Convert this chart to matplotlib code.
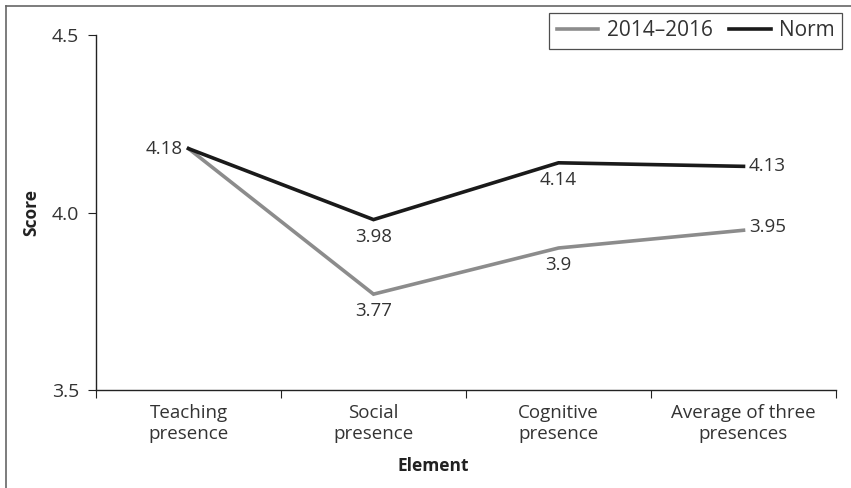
import matplotlib
matplotlib.use("Agg")
import matplotlib.pyplot as plt
from matplotlib.lines import Line2D

categories = ["Teaching\npresence", "Social\npresence", "Cognitive\npresence", "Average of three\npresences"]
series_2014 = [4.18, 3.77, 3.90, 3.95]
series_norm = [4.18, 3.98, 4.14, 4.13]
labels_2014 = ["4.18", "3.77", "3.9", "3.95"]
labels_norm = ["4.18", "3.98", "4.14", "4.13"]
yticks = [3.5, 4.0, 4.5]
ytick_labels = ["3.5", "4.0", "4.5"]

plt.rcParams['font.family'] = ['Open Sans', 'DejaVu Sans']
txt = '#333333'

fig = plt.figure(figsize=(8.51, 4.88), dpi=100)
ax = fig.add_axes([96/851, 1-390/488, (836-96)/851, (390-35)/488])

x = list(range(len(categories)))
ax.plot(x, series_2014, color='#8c8c8c', lw=2.6, label='2014–2016', solid_joinstyle='miter')
ax.plot(x, series_norm, color='#1a1a1a', lw=2.6, label='Norm', solid_joinstyle='miter')

ax.set_xlim(-0.5, len(categories) - 0.5)
ax.set_ylim(3.5, 4.5)
ax.set_yticks(yticks)
ax.set_yticklabels(ytick_labels, fontsize=14, color=txt)

bounds = [i - 0.5 for i in range(len(categories) + 1)]
ax.set_xticks(bounds)
ax.set_xticklabels([''] * len(bounds))
ax.set_xticks(x, minor=True)
ax.set_xticklabels(categories, minor=True, fontsize=13.5, color=txt, linespacing=1.2)
ax.tick_params(axis='x', which='minor', length=0, pad=10)
ax.tick_params(axis='x', which='major', length=6, direction='out', color='#222222')
ax.tick_params(axis='y', length=6, direction='out', color='#222222', pad=6)

for s in ['top', 'right']:
    ax.spines[s].set_visible(False)
for s in ['left', 'bottom']:
    ax.spines[s].set_color('#222222')
    ax.spines[s].set_linewidth(1.0)

ax.set_ylabel('Score', fontsize=12.5, fontweight='bold', color='#222222')
ax.set_xlabel('Element', fontsize=12.5, fontweight='bold', color='#222222')
ax.yaxis.set_label_coords((31 - 96) / (836 - 96), 0.5)
ax.xaxis.set_label_coords((433 - 96) / (836 - 96), -(466 - 390) / (390 - 35))
ax.xaxis.label.set_va('center')
ax.yaxis.label.set_va('center')

fs = 13.5
ax.annotate(labels_norm[0], (x[0], series_norm[0]), xytext=(-4, 0), textcoords='offset points',
            ha='right', va='center', fontsize=fs, color=txt)
ax.annotate(labels_norm[1], (x[1], series_norm[1]), xytext=(0, -6), textcoords='offset points',
            ha='center', va='top', fontsize=fs, color=txt)
ax.annotate(labels_norm[2], (x[2], series_norm[2]), xytext=(0, -6), textcoords='offset points',
            ha='center', va='top', fontsize=fs, color=txt)
ax.annotate(labels_norm[3], (x[3], series_norm[3]), xytext=(4, 0), textcoords='offset points',
            ha='left', va='center', fontsize=fs, color=txt)
ax.annotate(labels_2014[1], (x[1], series_2014[1]), xytext=(0, -6), textcoords='offset points',
            ha='center', va='top', fontsize=fs, color=txt)
ax.annotate(labels_2014[2], (x[2], series_2014[2]), xytext=(0, -6), textcoords='offset points',
            ha='center', va='top', fontsize=fs, color=txt)
ax.annotate(labels_2014[3], (x[3], series_2014[3]), xytext=(4, 2), textcoords='offset points',
            ha='left', va='center', fontsize=fs, color=txt)

leg = ax.legend(loc='upper right', bbox_to_anchor=(842/851, 1-13/488), bbox_transform=fig.transFigure,
                ncol=2, frameon=True, fancybox=False, fontsize=15, handlelength=2.0,
                columnspacing=0.8, handletextpad=0.4, borderpad=0.35, borderaxespad=0)
leg.get_frame().set_edgecolor('#222222')
leg.get_frame().set_linewidth(0.9)
for t in leg.get_texts():
    t.set_color(txt)

fig.add_artist(Line2D([5.5/851, 5.5/851], [0, 1-5.5/488], transform=fig.transFigure, color='#666666', lw=1.2))
fig.add_artist(Line2D([5.5/851, 1], [1-5.5/488, 1-5.5/488], transform=fig.transFigure, color='#666666', lw=1.2))

fig.savefig('out.png', dpi=100)
